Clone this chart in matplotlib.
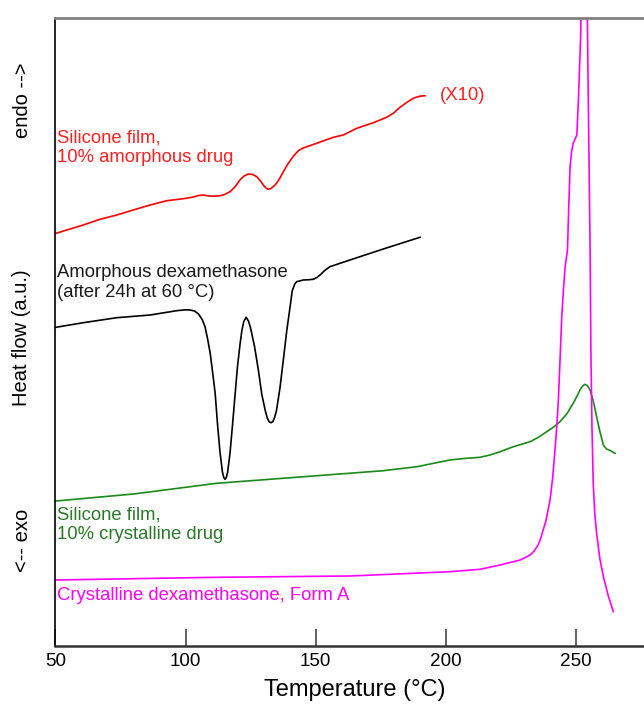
import matplotlib
matplotlib.use("Agg")
import matplotlib.pyplot as plt

plt.rcParams['font.family'] = ['Liberation Sans', 'DejaVu Sans']

# Temperature (°C) / heat flow (a.u., vertically offset traces)
red_T = [50.2, 60.7, 67.1, 73.6, 79.9, 86.4, 92.8, 99.2, 103.0, 105.0, 106.8, 109.0, 111.0, 113.3,
         115.0, 117.1, 119.0, 120.9, 122.5, 124.1, 125.8, 127.4, 128.8, 129.9, 130.9, 131.8, 132.8,
         134.0, 135.0, 136.3, 137.6, 139.5, 141.5, 143.4, 145.0, 146.6, 150.4, 156.8, 160.6, 165.8,
         172.2, 177.3, 180.0, 182.4, 185.0, 187.5, 190.0, 192.0]
red_H = [412.7, 421.0, 426.7, 431.0, 436.0, 441.0, 445.3, 447.3, 449.0, 450.5, 451.0, 450.0, 449.8, 450.3,
         451.5, 454.3, 459.0, 466.0, 470.0, 472.0, 471.5, 469.3, 465.0, 461.0, 458.0, 456.7, 457.5,
         460.0, 462.7, 468.0, 474.3, 482.7, 490.0, 495.3, 497.8, 499.3, 502.7, 508.7, 511.0, 517.7,
         523.3, 528.7, 533.0, 538.7, 543.5, 547.7, 549.8, 550.3]

black_T = [50.2, 60.7, 73.6, 86.4, 96.6, 100.0, 101.7, 103.5, 105.0, 106.5, 107.5, 108.5, 109.5, 110.5,
           111.4, 112.3, 113.3, 114.2, 114.7, 115.2, 115.7, 116.2, 117.1, 118.1, 119.1, 120.0, 121.0,
           121.7, 122.4, 123.3, 124.2, 125.0, 126.5, 128.0, 129.3, 130.6, 131.4, 132.2, 132.9, 133.6,
           134.3, 135.0, 136.3, 137.6, 138.9, 140.2, 141.0, 142.0, 142.7, 145.3, 147.0, 149.1, 150.5,
           151.7, 153.5, 155.5, 163.2, 176.0, 190.1]
black_H = [318.7, 323.3, 328.3, 331.0, 335.3, 336.2, 336.0, 335.0, 332.0, 326.0, 319.3, 307.0, 292.7, 272.0,
           252.7, 222.0, 192.7, 174.0, 168.5, 166.7, 168.5, 174.0, 192.7, 222.0, 252.7, 280.0, 302.7,
           316.0, 324.5, 328.7, 325.0, 318.0, 300.0, 276.0, 252.0, 236.0, 228.0, 224.0, 223.3, 224.5,
           229.0, 236.0, 258.0, 286.0, 315.0, 339.3, 355.0, 362.0, 364.3, 366.0, 366.2, 366.7, 368.5,
           371.0, 375.5, 379.3, 386.0, 397.0, 408.7]

green_T = [50.2, 80.0, 112.0, 144.0, 176.0, 188.9, 201.6, 207.0, 213.2, 217.0, 220.9, 226.0, 232.4,
           235.5, 238.8, 241.5, 243.9, 246.5, 249.0, 250.5, 251.6, 252.6, 253.5, 254.4, 255.5, 256.5,
           257.3, 258.0, 259.3, 260.6, 261.8, 263.2, 265.1]
green_H = [145.0, 152.0, 162.7, 169.0, 175.3, 179.3, 186.0, 187.5, 188.7, 191.0, 194.3, 199.3, 204.3,
           208.5, 214.3, 219.0, 224.3, 232.0, 242.7, 250.0, 256.0, 260.0, 261.7, 260.5, 256.0, 247.0,
           238.0, 229.3, 214.0, 201.0, 197.0, 195.5, 192.7]

mag_T = [50.2, 112.0, 163.2, 201.6, 213.2, 220.9, 228.6, 231.0, 232.4, 234.0, 235.5, 236.3, 236.9,
         238.5, 240.1, 241.1, 242.0, 242.7, 243.3, 244.0, 244.6, 245.3, 245.9, 246.8, 247.3, 247.8,
         248.4, 249.0, 249.7, 250.4, 251.0, 251.9, 253.3, 254.8, 255.5, 255.8, 256.2, 256.7, 257.3,
         258.0, 259.2, 260.6, 262.5, 264.4]
mag_H = [66.0, 68.7, 70.0, 74.3, 76.7, 81.0, 86.0, 89.0, 91.0, 95.0, 101.0, 106.0, 111.0,
         125.0, 146.0, 168.0, 196.0, 220.0, 246.0, 290.0, 329.3, 358.0, 379.3, 396.0, 440.0, 479.3,
         495.0, 502.7, 507.0, 511.0, 546.0, 612.7, 900.0, 546.0, 396.0, 296.0, 220.0, 162.7, 132.0,
         112.7, 88.0, 69.3, 50.0, 34.3]

xticks = [50, 100, 150, 200, 250]

fig = plt.figure(figsize=(6.44, 7.04), dpi=100)
ax = fig.add_axes([55.4 / 644, 1 - 646 / 704, 1 - 55.4 / 644, (646 - 18) / 704])
ax.set_xlim(50, 50 + (644 - 55.4) / 2.602)
ax.set_ylim(0, 628)

lw = 1.2
ax.plot(red_T, red_H, color='#ff0000', lw=lw)
ax.plot(black_T, black_H, color='black', lw=lw)
ax.plot(green_T, green_H, color='#1a8a1a', lw=lw)
ax.plot(mag_T, mag_H, color='#ff00ff', lw=lw)

fs = 13.3
ls = 1.22
ax.text(197.9, 551, '(X10)', color='#ff2020', fontsize=fs, va='center', ha='left')
ax.text(50.7, 498.5, 'Silicone film,\n10% amorphous drug', color='#ff2020', fontsize=fs,
        va='center', ha='left', linespacing=ls)
ax.text(50.5, 363.5, 'Amorphous dexamethasone\n(after 24h at 60 °C)', color='#1a1a1a', fontsize=fs,
        va='center', ha='left', linespacing=ls)
ax.text(50.7, 121.5, 'Silicone film,\n10% crystalline drug', color='#2a7a2a', fontsize=fs,
        va='center', ha='left', linespacing=ls)
ax.text(50.5, 51, 'Crystalline dexamethasone, Form A', color='#ff00ff', fontsize=fs,
        va='center', ha='left')

ax.set_xticks(xticks)
ax.set_xticklabels([str(t) for t in xticks], fontsize=13.6)
ax.set_yticks([])
ax.tick_params(axis='x', direction='in', length=12, width=1.3, color='#555555', pad=5)

ax.spines['right'].set_visible(False)
ax.spines['top'].set_color('#808080')
ax.spines['top'].set_linewidth(2.0)
ax.spines['bottom'].set_color('#333333')
ax.spines['bottom'].set_linewidth(1.8)
ax.spines['left'].set_color('black')
ax.spines['left'].set_linewidth(1.2)

fig.text(355 / 644, 1 - 690 / 704, 'Temperature (°C)', fontsize=17, ha='center', va='center')
fig.text(22 / 644, 1 - 100 / 704, 'endo -->', fontsize=14.5, rotation=90, ha='center', va='center')
fig.text(22 / 644, 1 - 338 / 704, 'Heat flow (a.u.)', fontsize=14.5, rotation=90, ha='center', va='center')
fig.text(22 / 644, 1 - 540 / 704, '<-- exo', fontsize=14.5, rotation=90, ha='center', va='center')

fig.savefig('out.png', dpi=100)
